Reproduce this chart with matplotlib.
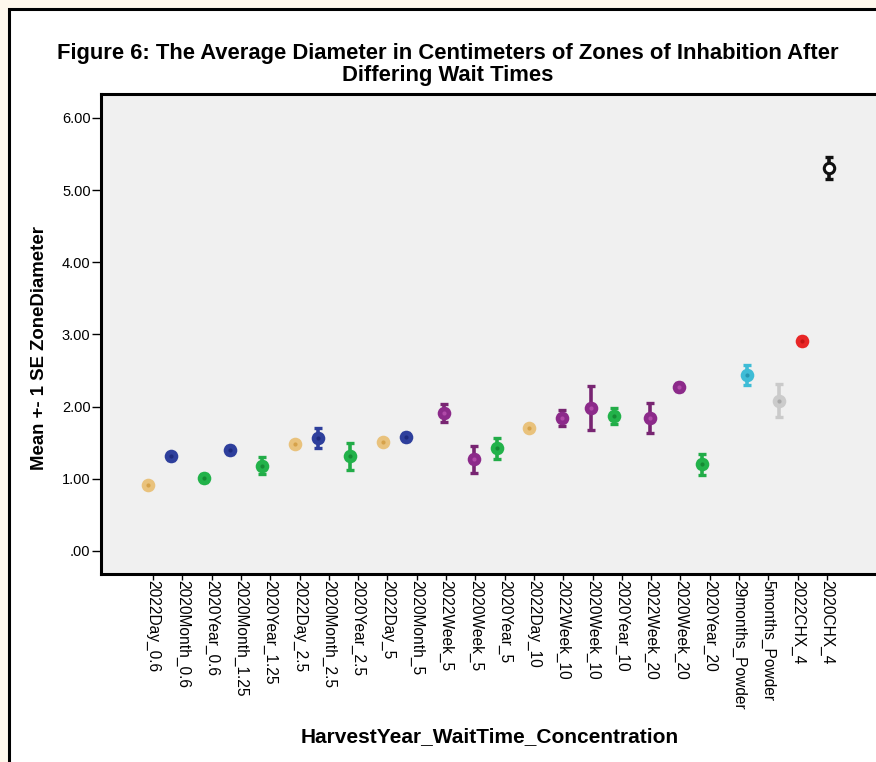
import numpy as np
import matplotlib.pyplot as plt
from matplotlib.patches import Rectangle
from matplotlib.ticker import FuncFormatter

plt.rcParams['font.family'] = ['Liberation Sans', 'DejaVu Sans']

categories = ['2022Day_0.6', '2020Month_0.6', '2020Year_0.6', '2020Month_1.25',
              '2020Year_1.25', '2022Day_2.5', '2020Month_2.5', '2020Year_2.5',
              '2022Day_5', '2020Month_5', '2022Week_5', '2020Week_5',
              '2020Year_5', '2022Day_10', '2022Week_10', '2020Week_10',
              '2020Year_10', '2022Week_20', '2020Week_20', '2020Year_20',
              '29months_Powder', '5months_Powder', '2022CHX_4', '2020CHX_4']

means = [0.92, 1.31, 1.01, 1.40, 1.18, 1.48, 1.57, 1.31, 1.51, 1.58, 1.91, 1.27,
         1.42, 1.71, 1.84, 1.98, 1.87, 1.84, 2.27, 1.20, 2.44, 2.08, 2.91, 5.31]

se = [0.04, 0.05, 0.05, 0.05, 0.12, 0.04, 0.14, 0.19, 0.04, 0.05, 0.12, 0.19,
      0.15, 0.04, 0.11, 0.31, 0.11, 0.21, 0.06, 0.15, 0.14, 0.23, 0.05, 0.15]

# colour group of each category (points are dodged by group)
groups = ['Day', 'Month', 'Year', 'Month', 'Year', 'Day', 'Month', 'Year', 'Day',
          'Month', 'Week', 'Week', 'Year', 'Day', 'Week', 'Week', 'Year', 'Week',
          'Week', 'Year', 'Powder29', 'Powder5', 'CHX2022', 'CHX2020']

group_order = ['Month', 'Year', 'Day', 'Week', 'CHX2020', 'CHX2022', 'Powder29', 'Powder5']
# face, centre dot, error bar
group_colors = {
    'Day': ('#E9C27C', '#D6A24A', '#E2B86A'),
    'Month': ('#2E3F9C', '#1D2A7E', '#2E3F9C'),
    'Year': ('#22B24A', '#158A34', '#22AC48'),
    'Week': ('#8C2A8A', '#B049A8', '#782572'),
    'Powder29': ('#3EBCD6', '#2596B2', '#3EBCD6'),
    'Powder5': ('#CBCBCB', '#A9A9A9', '#CACACA'),
    'CHX2022': ('#E82626', '#C41515', '#E82626'),
    'CHX2020': ('white', 'white', '#111111'),
}

W, H = 876, 762
fig = plt.figure(figsize=(W / 100, H / 100), dpi=100, facecolor='#FFF8EC')
fig.patches.append(Rectangle((9 / W, -0.1), 1.2, 1 - 9 / H + 0.1,
                             transform=fig.transFigure, facecolor='white',
                             edgecolor='black', linewidth=2.2, zorder=-1))

ax = fig.add_axes([101 / W, 1 - 574 / H, 778 / W, (574 - 94) / H])
ax.set_facecolor('#F0F0F0')

x = np.arange(len(categories))
step = 0.106
for g_idx, g in enumerate(group_order):
    idx = [i for i, gg in enumerate(groups) if gg == g]
    xs = x[idx] + (g_idx - 3.5) * step
    ys = np.array(means)[idx]
    es = np.array(se)[idx]
    face, dot, bar = group_colors[g]
    ax.errorbar(xs, ys, yerr=es, fmt='none', ecolor=bar, elinewidth=2.6,
                capsize=2.6, capthick=2.4, zorder=2)
    if g == 'CHX2020':
        ax.plot(xs, ys, 'o', ms=7.5, mfc='white', mec='#111111', mew=2.2, zorder=3)
    else:
        ax.plot(xs, ys, 'o', ms=9.8, mfc=face, mec='none', zorder=3)
        ax.plot(xs, ys, 'o', ms=3.0, mfc=dot, mec='none', zorder=4)

ax.set_xlim(-52 / 29.29, 23 + 52 / 29.29)
ax.set_ylim(-0.319, 6.332)
ax.set_yticks(np.arange(0, 7))
ax.yaxis.set_major_formatter(FuncFormatter(lambda v, pos: f'{v:.2f}'.lstrip('0') if v < 1 else f'{v:.2f}'))
ax.set_xticks(x)
ax.set_xticklabels(categories, rotation=270, fontsize=11.2, va='top', ha='center')
ax.tick_params(axis='y', length=6.5, width=1, pad=1, labelsize=10.5)
ax.tick_params(axis='x', length=4, width=1, pad=0.5)

for side in ['left', 'top', 'bottom']:
    ax.spines[side].set_linewidth(2.2)
ax.spines['right'].set_visible(False)

fig.text(448 / W, 1 - 53 / H, 'Figure 6: The Average Diameter in Centimeters of Zones of Inhabition After',
         ha='center', va='center', fontsize=15.8, fontweight='bold')
fig.text(448 / W, 1 - 75 / H, 'Differing Wait Times',
         ha='center', va='center', fontsize=15.8, fontweight='bold')
fig.text(40 / W, 1 - 348 / H, 'Mean +- 1 SE ZoneDiameter', rotation=90,
         ha='center', va='center', fontsize=13.4, fontweight='bold')
fig.text(490 / W, 1 - 737 / H, 'HarvestYear_WaitTime_Concentration',
         ha='center', va='center', fontsize=15, fontweight='bold')

fig.savefig('out.png', dpi=100, facecolor=fig.get_facecolor())
